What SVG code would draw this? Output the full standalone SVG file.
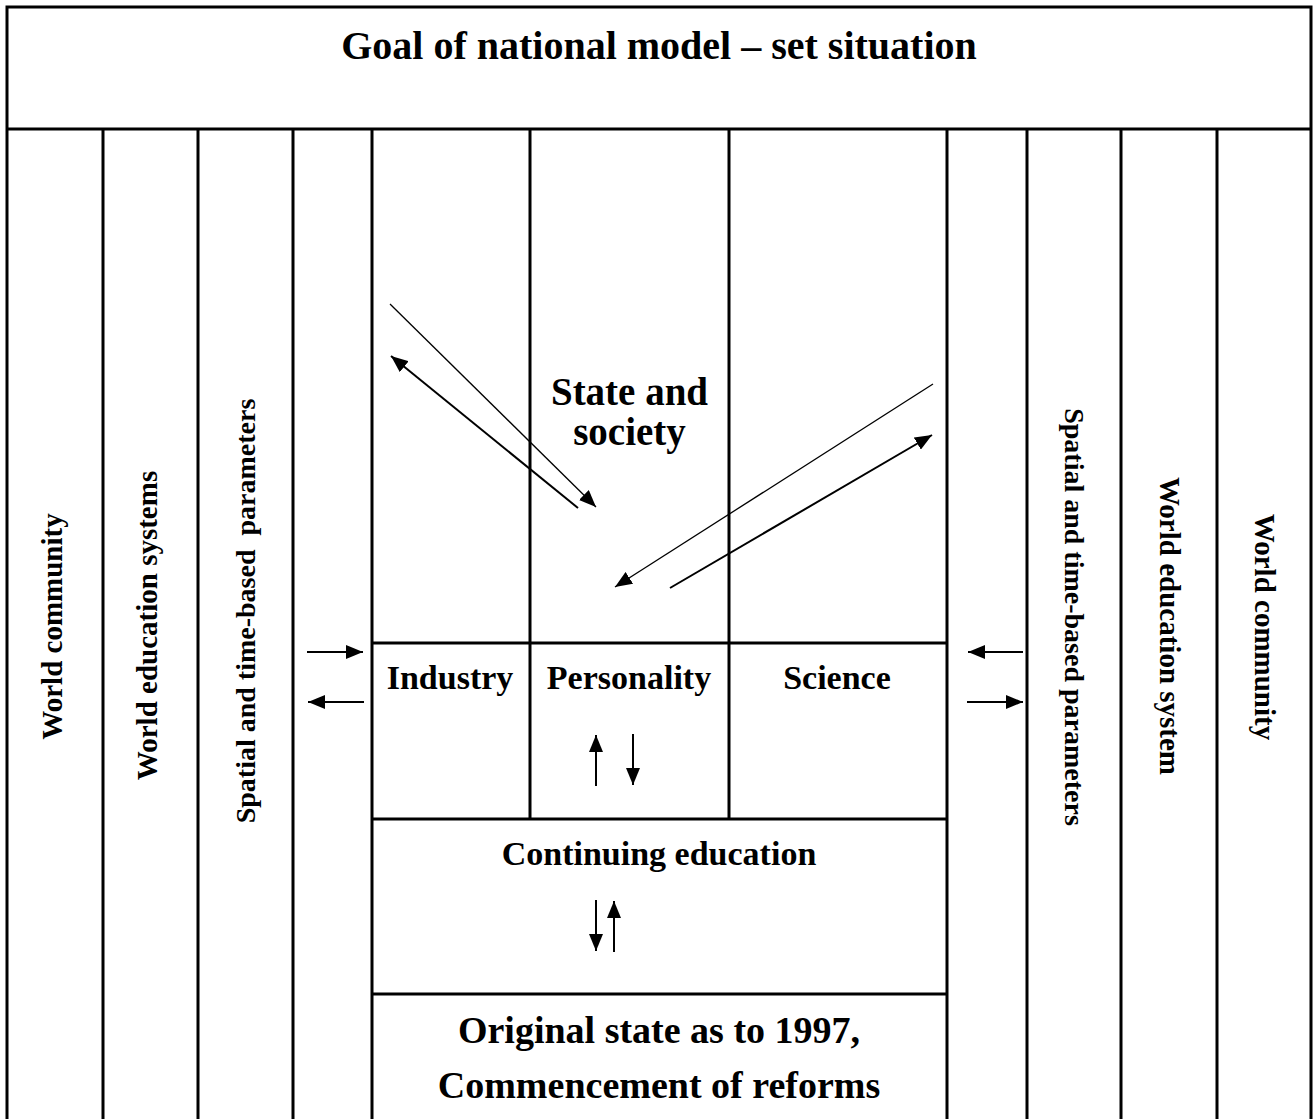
<svg xmlns="http://www.w3.org/2000/svg" width="1313" height="1119" viewBox="0 0 1313 1119">
<style>
.grid{stroke:#000;stroke-width:3;fill:none}
.t{font-family:"Liberation Serif","Times New Roman",serif;font-weight:bold;fill:#000;text-anchor:middle}
.thin{stroke:#000;stroke-width:1.3;fill:none}
.thick{stroke:#000;stroke-width:2;fill:none}
</style>
<defs>
<marker id="ah" markerUnits="userSpaceOnUse" markerWidth="18" markerHeight="14" refX="17" refY="7" orient="auto">
<path d="M0,0 L17,7 L0,14 z" fill="#000"/>
</marker>
</defs>
<rect width="1313" height="1119" fill="#fff"/>
<g id="frame">
<path class="grid" d="M7,1119 V7 H1311 V1119 M7,129 H1311"/>
<path class="grid" d="M103,129 V1119 M198,129 V1119 M293,129 V1119 M372,129 V1119 M530,129 V819 M729,129 V819 M947,129 V1119 M1027,129 V1119 M1121,129 V1119 M1217,129 V1119"/>
<path class="grid" d="M372,643 H947 M372,819 H947 M372,994 H947"/>
</g>
<g id="title"><text class="t" x="659" y="59" font-size="40">Goal of national model – set situation</text></g>
<g id="left-world-community"><text class="t" font-size="29" transform="translate(62,626.5) rotate(-90)">World community</text></g>
<g id="left-world-education"><text class="t" font-size="29" transform="translate(157,625.5) rotate(-90)">World education systems</text></g>
<g id="left-spatial"><text class="t" font-size="28" style="white-space:pre" transform="translate(255,611) rotate(-90)">Spatial and time-based  parameters</text></g>
<g id="right-spatial"><text class="t" font-size="28" transform="translate(1065,617) rotate(90)">Spatial and time-based parameters</text></g>
<g id="right-world-education"><text class="t" font-size="29" transform="translate(1160,626) rotate(90)">World education system</text></g>
<g id="right-world-community"><text class="t" font-size="29" transform="translate(1255,627) rotate(90)">World community</text></g>
<g id="state-society"><text class="t" font-size="39" x="629.5" y="405">State and</text><text class="t" font-size="39" x="629.5" y="445">society</text></g>
<g id="industry"><text class="t" font-size="34" x="450" y="689">Industry</text></g>
<g id="personality"><text class="t" font-size="34" x="629" y="689">Personality</text></g>
<g id="science"><text class="t" font-size="34" x="837" y="689">Science</text></g>
<g id="continuing-education"><text class="t" font-size="34" x="659" y="865">Continuing education</text></g>
<g id="original-state"><text class="t" font-size="38" x="659" y="1043">Original state as to 1997,</text><text class="t" font-size="38" x="659" y="1098">Commencement of reforms</text></g>
<g id="connectors">
<line class="thin" x1="390" y1="304" x2="596" y2="507" marker-end="url(#ah)"/>
<line class="thick" x1="578" y1="508" x2="391" y2="356" marker-end="url(#ah)"/>
<line class="thin" x1="933" y1="384" x2="615" y2="587" marker-end="url(#ah)"/>
<line class="thick" x1="670" y1="588" x2="932" y2="435" marker-end="url(#ah)"/>
<line class="thick" x1="307" y1="652" x2="363" y2="652" marker-end="url(#ah)"/>
<line class="thick" x1="364" y1="702" x2="308" y2="702" marker-end="url(#ah)"/>
<line class="thick" x1="1023" y1="652" x2="968" y2="652" marker-end="url(#ah)"/>
<line class="thick" x1="967" y1="702" x2="1023" y2="702" marker-end="url(#ah)"/>
<line class="thick" x1="596" y1="786" x2="596" y2="735" marker-end="url(#ah)"/>
<line class="thick" x1="633" y1="734" x2="633" y2="785" marker-end="url(#ah)"/>
<line class="thick" x1="596" y1="900" x2="596" y2="951" marker-end="url(#ah)"/>
<line class="thick" x1="614" y1="952" x2="614" y2="901" marker-end="url(#ah)"/>
</g>
</svg>
